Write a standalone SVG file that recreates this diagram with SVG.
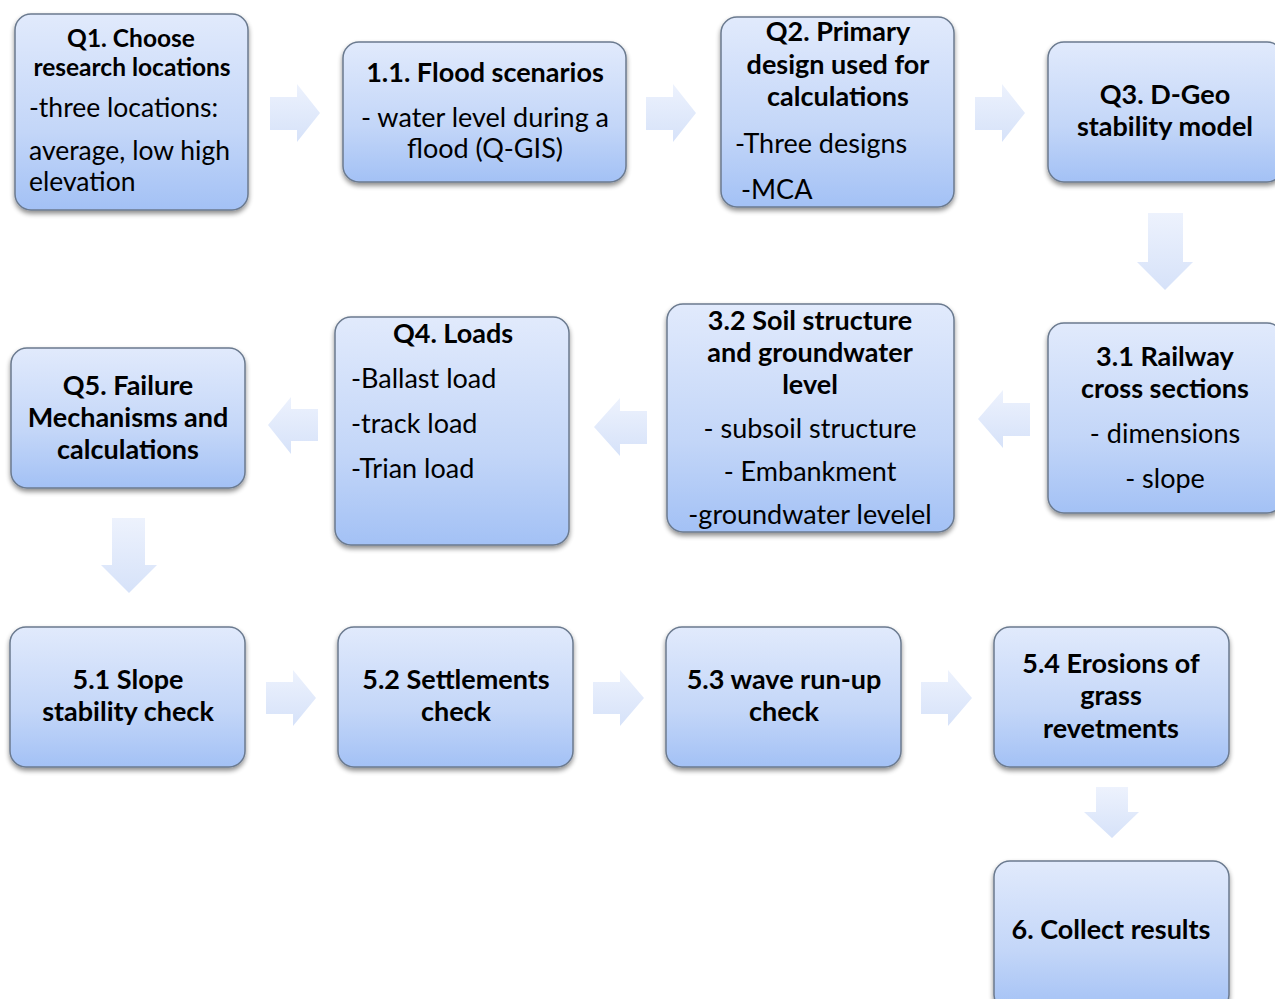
<svg xmlns="http://www.w3.org/2000/svg" width="1275" height="999" viewBox="0 0 1275 999">
<defs>
<linearGradient id="boxg" x1="0" y1="0" x2="0" y2="1">
<stop offset="0" stop-color="#e1eafc"/>
<stop offset="0.6" stop-color="#c3d6f8"/>
<stop offset="1" stop-color="#a3c1f5"/>
</linearGradient>
<linearGradient id="arrg" x1="0" y1="0" x2="0" y2="1">
<stop offset="0" stop-color="#edf2fd"/>
<stop offset="1" stop-color="#d6e2f9"/>
</linearGradient>
<filter id="sh" x="-10%" y="-10%" width="120%" height="130%">
<feGaussianBlur in="SourceAlpha" stdDeviation="2.5"/>
<feOffset dx="0" dy="3" result="b"/>
<feComponentTransfer><feFuncA type="linear" slope="0.45"/></feComponentTransfer>
<feMerge><feMergeNode/><feMergeNode in="SourceGraphic"/></feMerge>
</filter>
</defs>
<style>
.box{fill:url(#boxg);stroke:#6b7a8f;stroke-width:1.5;filter:url(#sh)}
.arr{fill:url(#arrg);stroke:none}
text{font-family:Lato,"Liberation Sans",sans-serif;fill:#000;font-size:27px}
.t{font-weight:bold;text-anchor:middle}
.c{text-anchor:middle}
.q1t{font-size:24.5px}
.q1b{font-size:26.5px}
</style>
<rect width="1275" height="999" fill="#fff"/>
<g id="connectors">
<path class="arr" d="M270,97 H297 V84 L320,113 L297,142 V130 H270 Z"/>
<path class="arr" d="M646,97 H673 V84 L696,113 L673,142 V130 H646 Z"/>
<path class="arr" d="M975,97 H1002 V84 L1025,113 L1002,142 V130 H975 Z"/>
<path class="arr" d="M1148,213 V262 H1137 L1165,290 L1193,262 H1183 V213 Z"/>
<path class="arr" d="M1030,403 H1003 V390 L978,419 L1003,448 V436 H1030 Z"/>
<path class="arr" d="M647,411 H620 V398 L594,427 L620,456 V444 H647 Z"/>
<path class="arr" d="M318,409 H291 V397 L268,425 L291,454 V441 H318 Z"/>
<path class="arr" d="M112,518 V565 H101 L129,593 L157,565 H145 V518 Z"/>
<path class="arr" d="M266,682 H293 V670 L316,698 L293,726 V714 H266 Z"/>
<path class="arr" d="M593,682 H620 V670 L644,698 L620,726 V714 H593 Z"/>
<path class="arr" d="M921,682 H948 V670 L972,698 L948,726 V714 H921 Z"/>
<path class="arr" d="M1096,787 V812 H1084 L1112,838 L1139,812 H1128 V787 Z"/>
</g>
<g id="q1">
<rect class="box" x="15" y="14" width="233" height="196" rx="16"/>
<text class="t q1t" x="131" y="47">Q1. Choose</text>
<text class="t q1t" x="132" y="76">research locations</text>
<text class="q1b" x="29" y="117">-three locations:</text>
<text class="q1b" x="29" y="160">average, low high</text>
<text class="q1b" x="29" y="191">elevation</text>
</g>
<g id="n11">
<rect class="box" x="343" y="42" width="283" height="140" rx="16"/>
<text class="t" x="485" y="82">1.1. Flood scenarios</text>
<text class="c" x="485" y="127">- water level during a</text>
<text class="c" x="485" y="158">flood (Q-GIS)</text>
</g>
<g id="q2">
<rect class="box" x="721" y="17" width="233" height="190" rx="16"/>
<text class="t" x="838" y="41">Q2. Primary</text>
<text class="t" x="838" y="74">design used for</text>
<text class="t" x="838" y="106">calculations</text>
<text x="735" y="153">-Three designs</text>
<text x="741" y="199">-MCA</text>
</g>
<g id="q3">
<rect class="box" x="1048" y="42" width="235" height="140" rx="16"/>
<text class="t" x="1165" y="104">Q3. D-Geo</text>
<text class="t" x="1165" y="136">stability model</text>
</g>
<g id="n31">
<rect class="box" x="1048" y="323" width="235" height="190" rx="16"/>
<text class="t" x="1165" y="366">3.1 Railway</text>
<text class="t" x="1165" y="398">cross sections</text>
<text class="c" x="1165" y="443">- dimensions</text>
<text class="c" x="1165" y="488">- slope</text>
</g>
<g id="n32">
<rect class="box" x="667" y="304" width="287" height="228" rx="16"/>
<text class="t" x="810" y="330">3.2 Soil structure</text>
<text class="t" x="810" y="362">and groundwater</text>
<text class="t" x="810" y="394">level</text>
<text class="c" x="810" y="438">- subsoil structure</text>
<text class="c" x="810" y="481">- Embankment</text>
<text class="c" x="810" y="524">-groundwater levelel</text>
</g>
<g id="q4">
<rect class="box" x="335" y="317" width="234" height="228" rx="16"/>
<text class="t" x="453" y="343">Q4. Loads</text>
<text x="351" y="388">-Ballast load</text>
<text x="351" y="433">-track load</text>
<text x="351" y="478">-Trian load</text>
</g>
<g id="q5">
<rect class="box" x="11" y="348" width="234" height="140" rx="16"/>
<text class="t" x="128" y="395">Q5. Failure</text>
<text class="t" x="128" y="427">Mechanisms and</text>
<text class="t" x="128" y="459">calculations</text>
</g>
<g id="n51">
<rect class="box" x="10" y="627" width="235" height="140" rx="16"/>
<text class="t" x="128" y="689">5.1 Slope</text>
<text class="t" x="128" y="721">stability check</text>
</g>
<g id="n52">
<rect class="box" x="338" y="627" width="235" height="140" rx="16"/>
<text class="t" x="456" y="689">5.2 Settlements</text>
<text class="t" x="456" y="721">check</text>
</g>
<g id="n53">
<rect class="box" x="666" y="627" width="235" height="140" rx="16"/>
<text class="t" x="784" y="689">5.3 wave run-up</text>
<text class="t" x="784" y="721">check</text>
</g>
<g id="n54">
<rect class="box" x="994" y="627" width="235" height="140" rx="16"/>
<text class="t" x="1111" y="673">5.4 Erosions of</text>
<text class="t" x="1111" y="705">grass</text>
<text class="t" x="1111" y="738">revetments</text>
</g>
<g id="n6">
<rect class="box" x="994" y="861" width="235" height="150" rx="16"/>
<text class="t" x="1111" y="939">6. Collect results</text>
</g>
</svg>
